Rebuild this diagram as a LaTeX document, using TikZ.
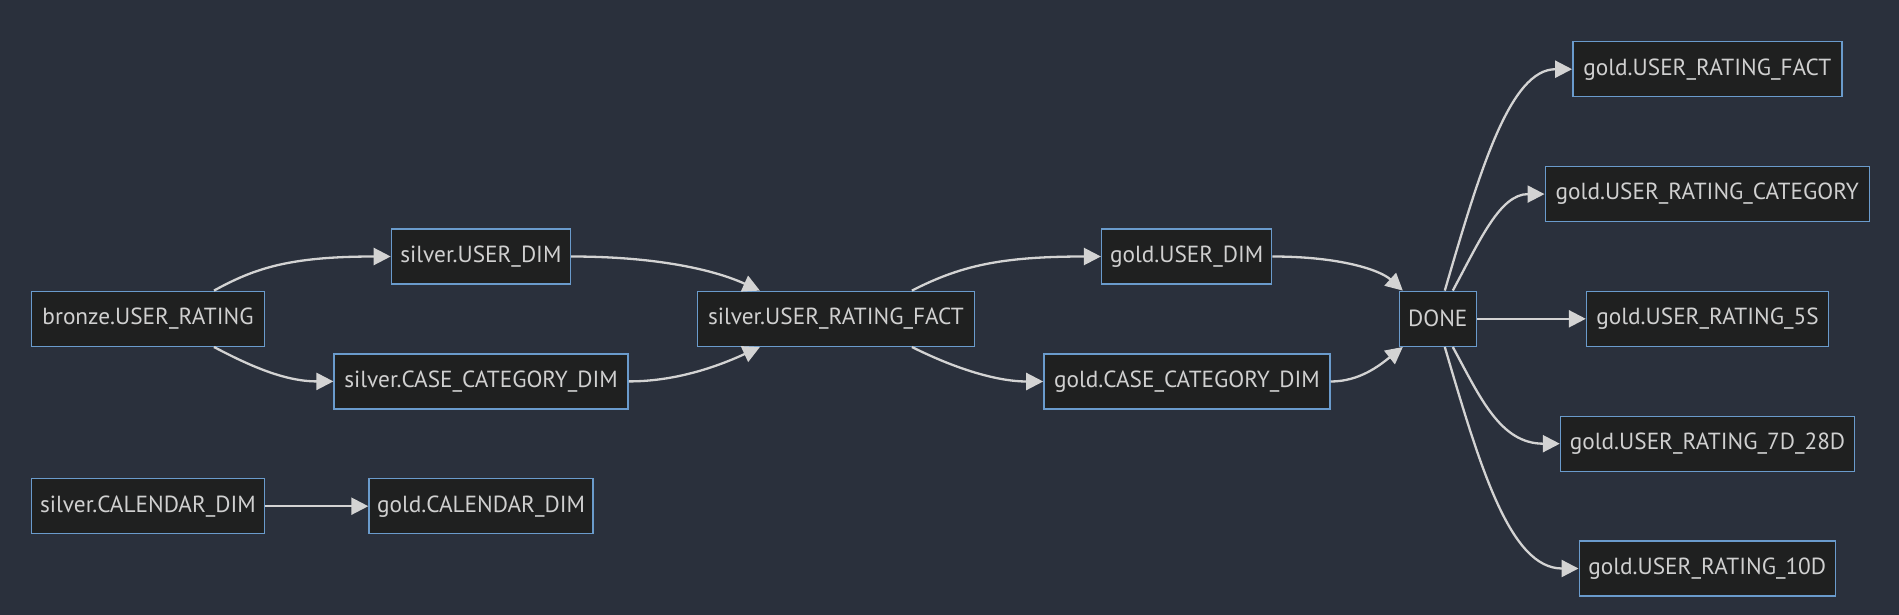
\documentclass[tikz,border=0pt]{standalone}
\usepackage{fontspec}
\setmainfont{PT Sans}
\usetikzlibrary{arrows.meta}
\definecolor{bg}{HTML}{2A303C}
\definecolor{nodefill}{HTML}{1F2020}
\definecolor{nodeborder}{HTML}{6A9BCC}
\definecolor{txt}{HTML}{D0D0D0}
\definecolor{edge}{HTML}{D3D3D3}
\begin{document}
\begin{tikzpicture}[x=1pt,y=-1pt,
  box/.style={draw=nodeborder, line width=1.4pt, fill=nodefill, text=txt,
    minimum height=55pt, inner sep=0pt, font=\fontsize{23.3}{26}\selectfont},
  link/.style={draw=edge, line width=2.3pt, -{Triangle[length=17pt,width=17pt]}}]
\fill[bg] (0,0) rectangle (1899,615);
\useasboundingbox (0,0) rectangle (1899,615);

\node[box, minimum width=233pt] (bronze) at (148,318.8) {bronze.USER\_RATING};
\node[box, minimum width=179pt] (sud) at (480.9,256.5) {silver.USER\_DIM};
\node[box, minimum width=294pt] (sccd) at (481.1,381.4) {silver.CASE\_CATEGORY\_DIM};
\node[box, minimum width=233pt] (scal) at (148,506.2) {silver.CALENDAR\_DIM};
\node[box, minimum width=224pt] (gcal) at (481,506.2) {gold.CALENDAR\_DIM};
\node[box, minimum width=277pt] (surf) at (835.9,318.8) {silver.USER\_RATING\_FACT};
\node[box, minimum width=170pt] (gud) at (1186.6,256.5) {gold.USER\_DIM};
\node[box, minimum width=286pt] (gccd) at (1186.9,381.5) {gold.CASE\_CATEGORY\_DIM};
\node[box, minimum width=77pt] (done) at (1437.8,318.8) {DONE};
\node[box, minimum width=269pt] (gfact) at (1707.3,69.2) {gold.USER\_RATING\_FACT};
\node[box, minimum width=324pt] (gcat) at (1707.2,194.1) {gold.USER\_RATING\_CATEGORY};
\node[box, minimum width=242pt] (g5s) at (1707.5,318.8) {gold.USER\_RATING\_5S};
\node[box, minimum width=294pt] (g7d) at (1707.5,443.7) {gold.USER\_RATING\_7D\_28D};
\node[box, minimum width=256pt] (g10d) at (1707.2,568.5) {gold.USER\_RATING\_10D};

\draw[link] ([xshift=66pt]bronze.north) .. controls (255,268) and (290,256.5) .. (sud.west);
\draw[link] ([xshift=66pt]bronze.south) .. controls (250,366) and (285,381.4) .. (sccd.west);
\draw[link] (sud.east) .. controls (650,256.5) and (710,268) .. ([xshift=-76pt]surf.north);
\draw[link] (sccd.east) .. controls (670,381.4) and (710,370) .. ([xshift=-76pt]surf.south);
\draw[link] ([xshift=76pt]surf.north) .. controls (960,266) and (1000,256.5) .. (gud.west);
\draw[link] ([xshift=76pt]surf.south) .. controls (960,371) and (1000,381.5) .. (gccd.west);
\draw[link] (gud.east) .. controls (1340,256.5) and (1380,270) .. ([xshift=-35pt]done.north);
\draw[link] (gccd.east) .. controls (1360,381.5) and (1380,365) .. ([xshift=-35pt]done.south);
\draw[link] ([xshift=7pt]done.north) .. controls (1480,170) and (1510,69.2) .. (gfact.west);
\draw[link] ([xshift=15pt]done.north) .. controls (1480,240) and (1500,194.1) .. (gcat.west);
\draw[link] (done.east) -- (g5s.west);
\draw[link] ([xshift=15pt]done.south) .. controls (1480,397) and (1500,443.7) .. (g7d.west);
\draw[link] ([xshift=7pt]done.south) .. controls (1480,467) and (1510,568.5) .. (g10d.west);
\draw[link] (scal.east) -- (gcal.west);
\end{tikzpicture}
\end{document}
